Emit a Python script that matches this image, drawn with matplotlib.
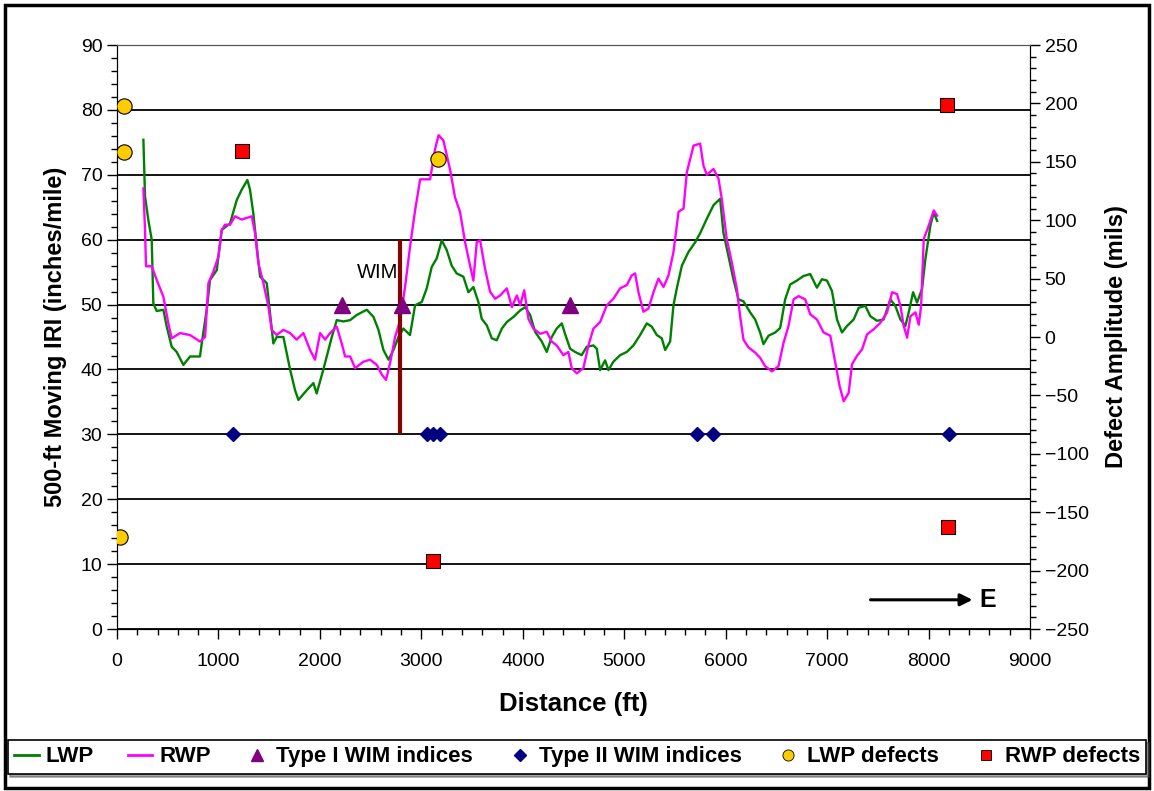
import matplotlib
matplotlib.use('Agg')
import matplotlib.pyplot as plt
from matplotlib.ticker import MultipleLocator
from matplotlib.patches import Rectangle
from matplotlib.lines import Line2D

plt.rcParams['font.family'] = ['Liberation Sans', 'DejaVu Sans']

# ── data ────────────────────────────────────────────────────────
lwp_x = [260, 276, 309, 342, 358, 391, 457, 490, 539, 588, 654, 720, 818, 835, 884, 917,
         983, 1032, 1114, 1180, 1229, 1285, 1311, 1344, 1377, 1410, 1476, 1541, 1574, 1640,
         1706, 1755, 1788, 1870, 1936, 1968, 2034, 2117, 2166, 2232, 2298, 2363, 2462, 2528,
         2577, 2626, 2676, 2725, 2774, 2823, 2888, 2938, 3004, 3053, 3102, 3151, 3201, 3250,
         3299, 3348, 3414, 3464, 3513, 3562, 3595, 3645, 3694, 3743, 3793, 3842, 3908, 3974,
         4023, 4072, 4121, 4187, 4236, 4285, 4334, 4384, 4416, 4466, 4515, 4580, 4630, 4696,
         4729, 4762, 4811, 4844, 4893, 4959, 5025, 5090, 5156, 5222, 5271, 5321, 5370, 5403,
         5452, 5485, 5518, 5568, 5633, 5699, 5748, 5813, 5879, 5945, 5977, 6027, 6076, 6126,
         6175, 6241, 6290, 6339, 6372, 6422, 6488, 6537, 6586, 6636, 6702, 6767, 6833, 6899,
         6948, 6998, 7047, 7097, 7146, 7196, 7261, 7311, 7376, 7426, 7491, 7557, 7623, 7672,
         7722, 7771, 7804, 7847, 7886, 7935, 7968, 8018, 8051, 8084]
lwp_y = [75.4, 66.7, 63.0, 60.0, 50.2, 49.0, 49.2, 46.6, 43.5, 42.7, 40.7, 42.0, 42.0, 44.0, 49.2, 53.8,
         55.3, 61.5, 62.5, 66.1, 67.7, 69.2, 67.7, 64.0, 59.0, 54.3, 53.3, 44.0, 45.0, 45.0,
         40.0, 36.8, 35.3, 36.8, 37.9, 36.3, 40.0, 45.0, 47.6, 47.4, 47.6, 48.4, 49.2, 48.1,
         46.1, 43.0, 41.5, 43.0, 45.0, 46.3, 45.3, 49.9, 50.4, 52.5, 55.8, 57.1, 59.9, 58.4,
         56.0, 54.8, 54.3, 51.9, 52.7, 50.4, 47.8, 46.8, 44.8, 44.5, 46.3, 47.3, 48.1, 49.1,
         49.6, 48.4, 45.8, 44.3, 42.7, 45.0, 46.3, 47.1, 45.5, 43.2, 42.7, 42.2, 43.5, 43.7,
         43.2, 39.9, 41.4, 39.9, 41.2, 42.2, 42.7, 43.7, 45.3, 47.1, 46.6, 45.3, 44.8, 43.0,
         44.3, 49.9, 52.5, 56.0, 58.1, 59.6, 61.0, 63.2, 65.3, 66.3, 61.1, 57.5, 53.9, 50.8,
         50.5, 48.8, 47.7, 45.7, 43.9, 45.2, 45.7, 46.4, 50.8, 53.1, 53.7, 54.4, 54.7, 52.6,
         53.9, 53.7, 52.1, 47.7, 45.7, 46.7, 47.7, 49.5, 49.8, 48.2, 47.5, 47.7, 50.8, 49.8,
         47.7, 46.7, 48.8, 51.9, 50.3, 52.4, 57.0, 62.2, 64.2, 62.9]

rwp_x = [260, 276, 286, 342, 391, 457, 506, 539, 621, 720, 818, 868, 901, 950, 999, 1032,
         1065, 1114, 1163, 1229, 1328, 1361, 1393, 1443, 1492, 1525, 1574, 1640, 1706, 1771,
         1837, 1903, 1952, 2002, 2051, 2100, 2166, 2215, 2248, 2298, 2347, 2429, 2495, 2561,
         2610, 2652, 2692, 2741, 2791, 2840, 2889, 2938, 2988, 3086, 3136, 3170, 3217, 3283,
         3332, 3381, 3431, 3480, 3513, 3546, 3579, 3628, 3677, 3727, 3776, 3842, 3892, 3941,
         3974, 4014, 4055, 4104, 4170, 4236, 4285, 4334, 4400, 4449, 4482, 4532, 4597, 4647,
         4696, 4762, 4828, 4893, 4959, 5025, 5074, 5107, 5140, 5189, 5239, 5288, 5337, 5387,
         5436, 5485, 5535, 5584, 5617, 5683, 5748, 5781, 5814, 5880, 5929, 5961, 6010, 6060,
         6110, 6142, 6175, 6224, 6290, 6339, 6389, 6455, 6520, 6570, 6619, 6669, 6718, 6784,
         6833, 6899, 6965, 7031, 7080, 7123, 7163, 7212, 7245, 7294, 7344, 7393, 7459, 7525,
         7591, 7640, 7689, 7722, 7755, 7788, 7821, 7870, 7903, 7926, 7952, 8002, 8051, 8084]
rwp_y = [67.9, 61.5, 55.9, 55.9, 53.8, 51.2, 47.1, 44.8, 45.6, 45.3, 44.3, 45.0, 53.3, 55.1, 57.4, 61.5,
         62.3, 62.3, 63.6, 63.1, 63.6, 61.0, 56.4, 53.3, 49.7, 46.1, 45.3, 46.1, 45.6, 44.6,
         45.6, 43.0, 41.5, 45.6, 44.6, 45.6, 46.6, 44.0, 42.0, 42.0, 40.2, 41.2, 41.5, 40.7,
         39.2, 38.4, 41.0, 45.0, 47.6, 52.8, 59.0, 64.5, 69.3, 69.3, 74.0, 76.1, 75.3, 70.8,
         66.5, 64.3, 59.6, 56.0, 53.7, 59.6, 59.9, 55.5, 52.0, 50.9, 51.4, 52.5, 49.6, 51.4,
         49.9, 52.2, 47.8, 46.3, 45.5, 45.8, 44.3, 43.7, 42.2, 42.7, 40.2, 39.4, 40.2, 43.7,
         46.3, 47.3, 49.9, 50.9, 52.5, 53.0, 54.5, 54.8, 51.9, 48.9, 49.4, 51.9, 54.0, 52.7,
         54.5, 58.1, 64.3, 64.8, 70.4, 74.5, 74.8, 71.4, 70.0, 70.9, 69.4, 66.3, 60.1, 56.5,
         52.4, 48.2, 44.6, 43.4, 42.6, 41.8, 40.5, 39.7, 40.5, 44.1, 46.7, 50.8, 51.3, 50.8,
         48.5, 47.7, 45.7, 45.2, 41.0, 37.4, 35.1, 36.4, 40.8, 42.1, 43.1, 45.4, 46.2, 47.2,
         48.8, 51.9, 51.6, 49.8, 46.7, 44.9, 48.2, 48.8, 46.9, 49.8, 60.1, 62.2, 64.5, 63.7]

type1_x = [2218, 2810, 4466]
type1_y = [50, 50, 50]
type2_x = [1143, 3056, 3115, 3184, 5718, 5875, 8202]
type2_y = [30, 30, 30, 30, 30, 30, 30]

# defects on the right axis (mils)
lwp_def_x = [70, 70, 30, 3165]
lwp_def_y = [198, 158, -171, 152]
rwp_def_x = [1230, 8180, 3115, 8190]
rwp_def_y = [159, 199, -192, -163]

wim_x = 2790
wim_span = [30, 60]

# ── figure ──────────────────────────────────────────────────────
fig = plt.figure(figsize=(11.54, 7.91), dpi=100)
ax = fig.add_axes([0.1014, 0.2048, 0.7912, 0.7383])
ax2 = ax.twinx()

ax.plot(lwp_x, lwp_y, color='#008000', lw=1.7, zorder=3)
ax.plot(rwp_x, rwp_y, color='#FF00FF', lw=1.7, zorder=3)
ax.vlines(wim_x, wim_span[0], wim_span[1], color='#8B0000', lw=3, zorder=4)
ax.text(2775, 54.9, 'WIM', ha='right', va='center', fontsize=14.5)
ax.plot(type1_x, type1_y, '^', color='#800080', ms=11, ls='none', zorder=5)
ax.plot(type2_x, type2_y, 'D', color='#000080', ms=7, ls='none', zorder=5)

ax2.plot(lwp_def_x, lwp_def_y, 'o', mfc='#FFCC00', mec='black', mew=0.8, ms=11, ls='none', zorder=6)
ax2.plot(rwp_def_x, rwp_def_y, 's', mfc='#FF0000', mec='black', mew=0.8, ms=10, ls='none', zorder=6)

ax.annotate('', xy=(8460, 4.5), xytext=(7400, 4.5),
            arrowprops=dict(arrowstyle='-|>', lw=2.2, color='black', mutation_scale=18))
ax.text(8500, 4.5, 'E', ha='left', va='center', fontsize=18, fontweight='bold')

ax.set_xlim(0, 9000)
ax.set_ylim(0, 90)
ax2.set_ylim(-250, 250)
ax.xaxis.set_major_locator(MultipleLocator(1000))
ax.xaxis.set_minor_locator(MultipleLocator(200))
ax.yaxis.set_major_locator(MultipleLocator(10))
ax.yaxis.set_minor_locator(MultipleLocator(2))
ax2.yaxis.set_major_locator(MultipleLocator(50))
ax2.yaxis.set_minor_locator(MultipleLocator(10))

ax.yaxis.grid(True, color='black', lw=1.3)
ax.set_axisbelow(True)
for a in (ax, ax2):
    a.tick_params(which='major', length=7, width=1, labelsize=14)
    a.tick_params(which='minor', length=4, width=1)
    a.spines['top'].set_color('#555555')
ax.tick_params(axis='x', pad=10)

ax.set_xlabel('Distance (ft)', fontsize=18.5, fontweight='bold', labelpad=16)
ax.set_ylabel('500-ft Moving IRI (inches/mile)', fontsize=17, fontweight='bold', labelpad=10)
ax2.set_ylabel('Defect Amplitude (mils)', fontsize=17, fontweight='bold', labelpad=12)

handles = [
    Line2D([], [], color='#008000', lw=2),
    Line2D([], [], color='#FF00FF', lw=2),
    Line2D([], [], marker='^', color='#800080', ls='none', ms=8),
    Line2D([], [], marker='D', color='#000080', ls='none', ms=6),
    Line2D([], [], marker='o', mfc='#FFCC00', mec='black', mew=0.6, ls='none', ms=8),
    Line2D([], [], marker='s', mfc='#FF0000', mec='black', mew=0.6, ls='none', ms=7),
]
labels = ['LWP', 'RWP', 'Type I WIM indices', 'Type II WIM indices', 'LWP defects', 'RWP defects']
leg = fig.legend(handles, labels, loc='center', bbox_to_anchor=(0.5, 0.043), ncol=6,
                 frameon=True, fancybox=False, shadow=True, edgecolor='black',
                 prop={'weight': 'bold', 'size': 16}, handlelength=1.1, handletextpad=0.3,
                 columnspacing=1.55, borderpad=0.3)
leg.get_frame().set_linewidth(1.2)

fig.patches.append(Rectangle((0.004, 0.004), 0.992, 0.99, transform=fig.transFigure,
                             fill=False, lw=2.5, edgecolor='black'))

fig.savefig('out.png', dpi=100)
